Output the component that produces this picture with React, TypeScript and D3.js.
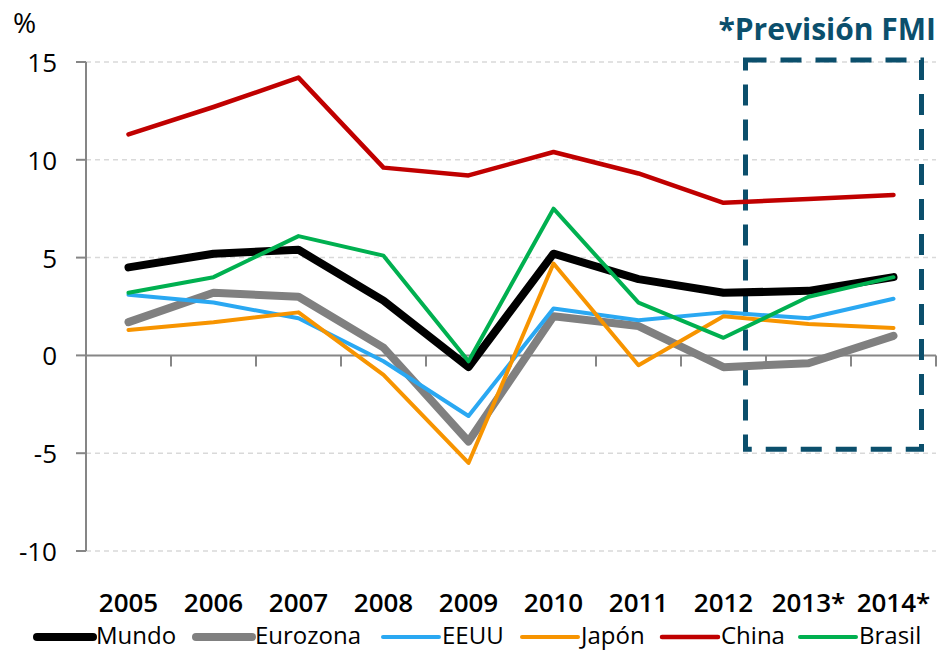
import React, { useEffect, useRef } from "react";
import * as d3 from "d3";

const years = ["2005", "2006", "2007", "2008", "2009", "2010", "2011", "2012", "2013*", "2014*"];
const mundo = [4.5, 5.2, 5.4, 2.8, -0.6, 5.2, 3.9, 3.2, 3.3, 4.0];
const eurozona = [1.7, 3.2, 3.0, 0.4, -4.4, 2.0, 1.5, -0.6, -0.4, 1.0];
const eeuu = [3.1, 2.7, 1.9, -0.3, -3.1, 2.4, 1.8, 2.2, 1.9, 2.9];
const japon = [1.3, 1.7, 2.2, -1.0, -5.5, 4.7, -0.5, 2.0, 1.6, 1.4];
const china = [11.3, 12.7, 14.2, 9.6, 9.2, 10.4, 9.3, 7.8, 8.0, 8.2];
const brasil = [3.2, 4.0, 6.1, 5.1, -0.3, 7.5, 2.7, 0.9, 3.0, 4.0];
const yTicks = [-10, -5, 0, 5, 10, 15];

const series = [
  { name: "Mundo", values: mundo, color: "#000000", width: 8 },
  { name: "Eurozona", values: eurozona, color: "#808080", width: 8 },
  { name: "EEUU", values: eeuu, color: "#2aa8f2", width: 4 },
  { name: "Japón", values: japon, color: "#f79400", width: 4 },
  { name: "China", values: china, color: "#c00000", width: 4.5 },
  { name: "Brasil", values: brasil, color: "#00b050", width: 4 },
];

const W = 942;
const H = 651;
const font = "Open Sans, Lato, sans-serif";

export default function App() {
  const ref = useRef(null);

  useEffect(() => {
    const svg = d3.select(ref.current);
    svg.selectAll("*").remove();

    const x = d3.scaleBand().domain(years).range([86, 936]);
    const y = d3.scaleLinear().domain([-10, 15]).range([551, 62]);
    const cx = (d) => x(d) + x.bandwidth() / 2;

    // grid lines (dashed), zero line solid
    svg.append("g")
      .selectAll("line")
      .data(yTicks.filter((t) => t !== 0))
      .join("line")
      .attr("x1", 86)
      .attr("x2", 936)
      .attr("y1", (d) => y(d))
      .attr("y2", (d) => y(d))
      .attr("stroke", "#d9d9d9")
      .attr("stroke-width", 1.5)
      .attr("stroke-dasharray", "5,4");

    // y axis
    svg.append("line")
      .attr("x1", 86).attr("x2", 86)
      .attr("y1", y(15)).attr("y2", y(-10))
      .attr("stroke", "#868686").attr("stroke-width", 2);
    svg.append("g")
      .selectAll("line")
      .data(yTicks)
      .join("line")
      .attr("x1", 76).attr("x2", 86)
      .attr("y1", (d) => y(d)).attr("y2", (d) => y(d))
      .attr("stroke", "#868686").attr("stroke-width", 2);
    svg.append("g")
      .selectAll("text")
      .data(yTicks)
      .join("text")
      .attr("x", 57)
      .attr("y", (d) => y(d) + 10)
      .attr("text-anchor", "end")
      .attr("font-family", font)
      .attr("font-size", 26)
      .attr("fill", "#000")
      .text((d) => d);

    // zero line with category ticks
    svg.append("line")
      .attr("x1", 86).attr("x2", 936)
      .attr("y1", y(0)).attr("y2", y(0))
      .attr("stroke", "#868686").attr("stroke-width", 2);
    svg.append("g")
      .selectAll("line")
      .data(d3.range(years.length + 1))
      .join("line")
      .attr("x1", (i) => 86 + i * x.step())
      .attr("x2", (i) => 86 + i * x.step())
      .attr("y1", y(0)).attr("y2", y(0) + 11)
      .attr("stroke", "#868686").attr("stroke-width", 2);

    // year labels
    svg.append("g")
      .selectAll("text")
      .data(years)
      .join("text")
      .attr("x", (d) => cx(d))
      .attr("y", 612)
      .attr("text-anchor", "middle")
      .attr("font-family", font)
      .attr("font-size", 26)
      .attr("font-weight", 600)
      .attr("fill", "#000")
      .text((d) => d);

    // forecast box
    const bx0 = cx("2012") + 22;
    const bx1 = cx("2014*") + 28;
    svg.append("rect")
      .attr("x", bx0)
      .attr("y", y(15.1))
      .attr("width", bx1 - bx0)
      .attr("height", y(-4.8) - y(15.1))
      .attr("fill", "none")
      .attr("stroke", "#0b4f6c")
      .attr("stroke-width", 5)
      .attr("stroke-dasharray", "21,14");

    // lines
    const line = d3.line()
      .x((d, i) => cx(years[i]))
      .y((d) => y(d));
    svg.append("g")
      .selectAll("path")
      .data(series)
      .join("path")
      .attr("d", (s) => line(s.values))
      .attr("fill", "none")
      .attr("stroke", (s) => s.color)
      .attr("stroke-width", (s) => s.width)
      .attr("stroke-linejoin", "round")
      .attr("stroke-linecap", "round");

    // unit label and title
    svg.append("text")
      .attr("x", 13).attr("y", 33)
      .attr("font-family", font).attr("font-size", 28)
      .text("%");
    svg.append("text")
      .attr("x", 936).attr("y", 40)
      .attr("text-anchor", "end")
      .attr("font-family", font).attr("font-size", 30)
      .attr("font-weight", 700)
      .attr("fill", "#0b4f6c")
      .text("*Previsión FMI");

    // legend
    const legendX = [37, 196, 383, 522, 662, 800];
    const lg = svg.append("g")
      .selectAll("g")
      .data(series)
      .join("g")
      .attr("transform", (d, i) => `translate(${legendX[i]},637)`);
    lg.append("line")
      .attr("x1", 0).attr("x2", 56)
      .attr("stroke", (d) => d.color)
      .attr("stroke-width", (d) => d.width)
      .attr("stroke-linecap", "round");
    lg.append("text")
      .attr("x", 59).attr("y", 7)
      .attr("font-family", font).attr("font-size", 24)
      .attr("fill", "#000")
      .text((d) => d.name);
  }, []);

  return (
    <svg
      ref={ref}
      width={W}
      height={H}
      style={{ position: "absolute", left: 0, top: 0, background: "#fff", display: "block" }}
    />
  );
}
